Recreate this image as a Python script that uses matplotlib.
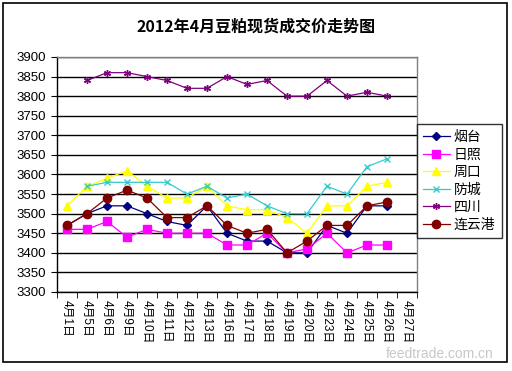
import numpy as np
import matplotlib
matplotlib.use("Agg")
import matplotlib.pyplot as plt
from matplotlib.patches import Rectangle

plt.rcParams["font.family"] = ["Liberation Sans", "Noto Sans CJK SC"]

nan = np.nan

DATES = ["4月1日", "4月5日", "4月6日", "4月9日", "4月10日", "4月11日", "4月12日",
         "4月13日", "4月16日", "4月17日", "4月18日", "4月19日", "4月20日",
         "4月23日", "4月24日", "4月25日", "4月26日", "4月27日"]

yantai = [3470, 3500, 3520, 3520, 3500, 3480, 3470, 3520, 3450, 3430, 3430,
          3400, 3400, 3470, 3450, 3520, 3520, nan]
rizhao = [3460, 3460, 3480, 3440, 3460, 3450, 3450, 3450, 3420, 3420, 3450,
          3400, 3410, 3450, 3400, 3420, 3420, nan]
zhoukou = [3520, 3570, 3590, 3610, 3570, 3540, 3540, 3570, 3520, 3510, 3510,
           3490, 3450, 3520, 3520, 3570, 3580, nan]
fangcheng = [nan, 3570, 3580, 3580, 3580, 3580, 3550, 3570, 3540, 3550, 3520,
             3500, 3500, 3570, 3550, 3620, 3640, nan]
sichuan = [nan, 3840, 3860, 3860, 3850, 3840, 3820, 3820, 3850, 3830, 3840,
           3800, 3800, 3840, 3800, 3810, 3800, nan]
lianyungang = [3470, 3500, 3540, 3560, 3540, 3490, 3490, 3520, 3470, 3450, 3460,
               3400, 3430, 3470, 3470, 3520, 3530, nan]

SERIES = [
    ("烟台", yantai, "#000080", "D", 4),
    ("日照", rizhao, "#FF00FF", "s", 6),
    ("周口", zhoukou, "#FFFF00", "^", 6),
    ("防城", fangcheng, "#33CCCC", "x", 4),
    ("四川", sichuan, "#800080", (6, 2, 0), 5),
    ("连云港", lianyungang, "#800000", "o", 6),
]

fig = plt.figure(figsize=(5.12, 3.71), dpi=100)
ax = fig.add_axes([57 / 512, 1 - 292 / 371, 360 / 512, 235 / 371])

x = np.arange(len(DATES))
handles = []
for name, vals, color, marker, ms in SERIES:
    h, = ax.plot(x, vals, color=color, lw=0.9, marker=marker, ms=ms,
                 mfc=color, mec=color, mew=1.0, label=name)
    handles.append(h)

ax.set_xlim(-0.5, len(DATES) - 0.5)
ax.set_ylim(3300, 3900)
ax.set_yticks(np.arange(3300, 3901, 50))
ax.yaxis.grid(True, color="black", lw=1.0)
ax.set_axisbelow(True)

ax.set_xticks(x)
ax.set_xticklabels(DATES, rotation=-90, fontsize=8.5, va="top", ha="center")
ax.set_xticks(np.arange(-0.5, len(DATES)), minor=True)
ax.tick_params(axis="x", which="major", length=0, pad=6)
ax.tick_params(axis="x", which="minor", length=4, direction="out", color="black")
ax.tick_params(axis="y", length=4, direction="out", labelsize=9.5, pad=4)

for side in ["top", "right"]:
    ax.spines[side].set_color("#808080")
    ax.spines[side].set_linewidth(1)
for side in ["left", "bottom"]:
    ax.spines[side].set_color("black")
    ax.spines[side].set_linewidth(1)

fig.text(0.5, 1 - 27 / 371, "2012年4月豆粕现货成交价走势图", ha="center",
         va="center", fontsize=11.5, fontweight="bold",
         family=["Noto Sans CJK SC"])

leg = fig.legend(handles=handles, loc="upper left",
                 bbox_to_anchor=(417 / 512, 1 - 124 / 371), frameon=True,
                 fancybox=False, fontsize=10, handlelength=1.9,
                 handletextpad=0.3, labelspacing=0.25, borderpad=0.45,
                 borderaxespad=0)
leg.get_frame().set_edgecolor("black")
leg.get_frame().set_linewidth(1)

fig.text(440 / 512, 1 - 354 / 371, "feedtrade.com.cn", ha="center",
         va="center", fontsize=10, color="#c8c8c8")

fig.patches.append(Rectangle((3 / 512, 1 - 362 / 371), 504 / 512, 359 / 371,
                             transform=fig.transFigure, fill=False,
                             edgecolor="black", lw=1.2))

fig.savefig("out.png", dpi=100)
